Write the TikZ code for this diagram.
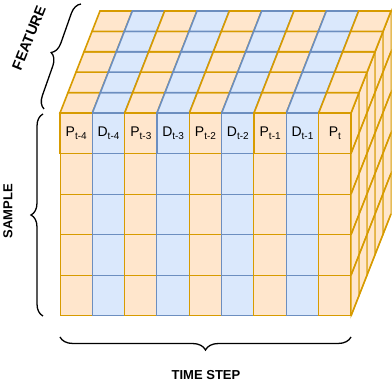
\documentclass[tikz,border=0pt]{standalone}
\usepackage{fontspec}
\setmainfont{Liberation Sans}
\usetikzlibrary{decorations.pathreplacing}
\definecolor{ofill}{HTML}{FFE6CC}
\definecolor{odraw}{HTML}{D79B00}
\definecolor{bfill}{HTML}{DAE8FC}
\definecolor{bdraw}{HTML}{6C8EBF}
\newcommand\cellW{32.333}
\newcommand\cellH{40.6}
\newcommand\dpX{8}
\newcommand\dpY{20.4}
\newcommand\clab[2]{{\fontsize{14}{14}\selectfont #1}\raisebox{-3.5pt}{\fontsize{10}{10}\selectfont #2}}
\tikzset{
  ocol/.style={fill=ofill, draw=odraw},
  thickline/.style={line width=1.6pt},
  thinline/.style={line width=1pt},
  cellbox/.style={minimum width=32.333pt, minimum height=40.6pt, inner sep=0pt, outer sep=0pt, anchor=north west},
  bracestyle/.style={draw=black, line width=1.3pt, decorate, decoration={brace, amplitude=#1}},
  axislabel/.style={font=\fontsize{13}{13}\selectfont\bfseries, inner sep=0pt}
}
\begin{document}
\begin{tikzpicture}[x=1pt,y=-1pt]
\useasboundingbox (0,0) rectangle (392,382);
% right face
\foreach \k in {0,...,4}{
  \foreach \r in {0,...,4}{
    \draw[ocol, thinline] ({351+\k*\dpX},{113+\r*\cellH-\k*\dpY}) -- ++(\dpX,-\dpY) -- ++(0,\cellH) -- ++(-\dpX,\dpY) -- cycle;
  }
}
\foreach \r in {0,...,5}{
  \draw[draw=odraw, thickline] (351,{113+\r*\cellH}) -- ++(40,-102);
}
% top face
\foreach \c in {0,...,8}{
  \ifodd\c \def\fc{bfill}\def\dc{bdraw}\else \def\fc{ofill}\def\dc{odraw}\fi
  \foreach \k in {0,...,4}{
    \draw[fill=\fc, draw=\dc, thickline] ({60+\c*\cellW+\k*\dpX},{113-\k*\dpY}) -- ++(\cellW,0) -- ++(\dpX,-\dpY) -- ++(-\cellW,0) -- cycle;
  }
}
% front face, lower rows
\foreach \c in {0,...,8}{
  \ifodd\c \def\fc{bfill}\def\dc{bdraw}\else \def\fc{ofill}\def\dc{odraw}\fi
  \foreach \r in {1,...,4}{
    \node[cellbox, fill=\fc, draw=\dc, thinline] (f-\c-\r) at ({60+\c*\cellW},{113+\r*\cellH}) {};
  }
}
% front face, label row
\foreach \c/\a/\b in {0/P/t-4, 1/D/t-4, 2/P/t-3, 3/D/t-3, 4/P/t-2, 5/D/t-2, 6/P/t-1, 7/D/t-1, 8/P/t}{
  \ifodd\c \def\fc{bfill}\def\dc{bdraw}\else \def\fc{ofill}\def\dc{odraw}\fi
  \node[cellbox, fill=\fc, draw=\dc, thickline] (lab-\c) at ({60+\c*\cellW},113) {\clab{\a}{\b}};
}
% braces
\coordinate (sb1) at (43,316);
\coordinate (sb2) at (43,114);
\draw[bracestyle=12pt] (sb1) -- (sb2);
\node[axislabel, rotate=90] (samplelab) at (8,211) {SAMPLE};
\coordinate (tb1) at (351,337);
\coordinate (tb2) at (60,337);
\draw[bracestyle=13pt] (tb1) -- (tb2);
\node[axislabel] (timelab) at (206,375) {TIME STEP};
\coordinate (fb1) at (44,109);
\coordinate (fb2) at (81,4);
\draw[bracestyle=12pt] (fb1) -- (fb2);
\node[axislabel, font=\fontsize{14.5}{14.5}\selectfont\bfseries, rotate=68] (featlab) at (29,38) {FEATURE};
\end{tikzpicture}
\end{document}
